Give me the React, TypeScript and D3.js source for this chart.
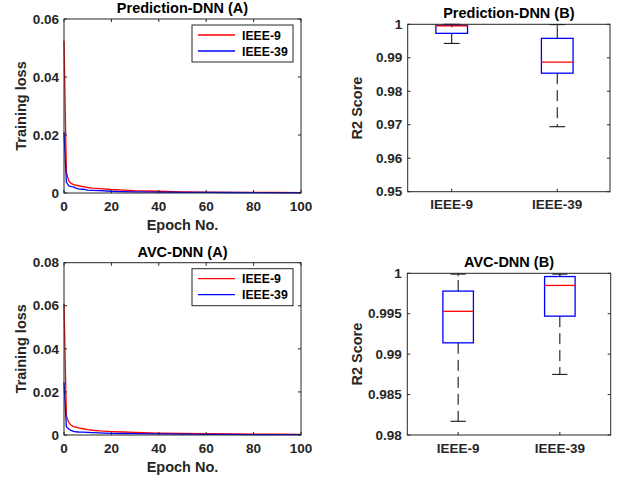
import React from 'react';
import * as d3 from 'd3';

// training loss curves
const epochs = [0, 1, 2, 3, 4, 5, 6, 8, 10, 12, 15, 20, 25, 30, 40, 50, 60, 70, 80, 90, 100];

const predLoss9 = [0.0525, 0.0072, 0.0042, 0.0033, 0.0029, 0.0027, 0.0025, 0.0022, 0.0019, 0.0017, 0.0015, 0.0012, 0.001, 0.0008, 0.0006, 0.0004, 0.0003, 0.00025, 0.0002, 0.00018, 0.00015];
const predLoss39 = [0.021, 0.0038, 0.0025, 0.0022, 0.0021, 0.0017, 0.0014, 0.0013, 0.001, 0.0009, 0.0008, 0.0006, 0.0005, 0.0004, 0.0003, 0.00025, 0.0002, 0.00018, 0.00015, 0.00012, 0.0001];
const avcLoss9 = [0.061, 0.0088, 0.0058, 0.0045, 0.0039, 0.0036, 0.0033, 0.0029, 0.0025, 0.0022, 0.0019, 0.0016, 0.0014, 0.0012, 0.0009, 0.0007, 0.0006, 0.0005, 0.0004, 0.00035, 0.0003];
const avcLoss39 = [0.0245, 0.0038, 0.0028, 0.0021, 0.0017, 0.0015, 0.0014, 0.0013, 0.0012, 0.0011, 0.001, 0.0008, 0.0007, 0.0006, 0.0005, 0.0004, 0.0003, 0.00025, 0.0002, 0.00018, 0.00015];

const seriesNames = ['IEEE-9', 'IEEE-39'];
const epochTicks = [0, 20, 40, 60, 80, 100];
const predLossTicks = [0, 0.02, 0.04, 0.06];
const avcLossTicks = [0, 0.02, 0.04, 0.06, 0.08];

// box plot stats per system
const categories = ['IEEE-9', 'IEEE-39'];
const predWhiskerHigh = [1.0, 0.9999];
const predQ3 = [0.9997, 0.9958];
const predMedian = [0.9995, 0.9887];
const predQ1 = [0.9973, 0.9854];
const predWhiskerLow = [0.9943, 0.9694];
const predR2Ticks = [0.95, 0.96, 0.97, 0.98, 0.99, 1];

const avcWhiskerHigh = [0.9999, 0.9999];
const avcQ3 = [0.9978, 0.9996];
const avcMedian = [0.9953, 0.9985];
const avcQ1 = [0.9914, 0.9947];
const avcWhiskerLow = [0.9817, 0.9875];
const avcR2Ticks = [0.98, 0.985, 0.99, 0.995, 1];

const FONT = '"Liberation Sans", Arial, Helvetica, sans-serif';
const AX = '#262626';
const TICK = 3;

const LossPanel = ({ box, title, s9, s39, yTicks }) => {
  const x = d3.scaleLinear().domain([0, 100]).range([box.l, box.r]);
  const y = d3.scaleLinear().domain([0, yTicks[yTicks.length - 1]]).range([box.b, box.t]);
  const line = d3.line<number>().x((d, i) => x(epochs[i])).y(d => y(d));
  const cx = (box.l + box.r) / 2;
  const cy = (box.t + box.b) / 2;
  const lg = { l: box.r - 109, t: box.t + 6, w: 101, h: 37 };
  return (
    <g fontFamily={FONT} fontWeight="bold" fill={AX}>
      <rect x={box.l} y={box.t} width={box.r - box.l} height={box.b - box.t} fill="#fff" />
      <path d={line(s9) || ''} fill="none" stroke="#ff0000" strokeWidth={1.3} />
      <path d={line(s39) || ''} fill="none" stroke="#0000ff" strokeWidth={1.3} />
      <rect x={box.l} y={box.t} width={box.r - box.l} height={box.b - box.t} fill="none" stroke={AX} strokeWidth={1} />
      {epochTicks.map(t => (
        <g key={t}>
          <line x1={x(t)} x2={x(t)} y1={box.b} y2={box.b - TICK} stroke={AX} />
          <line x1={x(t)} x2={x(t)} y1={box.t} y2={box.t + TICK} stroke={AX} />
          <text x={x(t)} y={box.b + 18} textAnchor="middle" fontSize={13.5}>{t}</text>
        </g>
      ))}
      {yTicks.map(t => (
        <g key={t}>
          <line x1={box.l} x2={box.l + TICK} y1={y(t)} y2={y(t)} stroke={AX} />
          <line x1={box.r} x2={box.r - TICK} y1={y(t)} y2={y(t)} stroke={AX} />
          <text x={box.l - 5} y={y(t) + 4.7} textAnchor="end" fontSize={13.5}>{String(t)}</text>
        </g>
      ))}
      <text x={cx} y={box.t - 6} textAnchor="middle" fontSize={14.5} fill="#000">{title}</text>
      <text x={cx} y={box.b + 37} textAnchor="middle" fontSize={14.5}>Epoch No.</text>
      <text transform={`translate(26,${cy}) rotate(-90)`} textAnchor="middle" fontSize={14.5}>Training loss</text>
      <rect x={lg.l} y={lg.t} width={lg.w} height={lg.h} fill="#fff" stroke={AX} strokeWidth={1} />
      {[s9, s39].map((_, i) => {
        const ly = lg.t + 10 + i * 16;
        return (
          <g key={i}>
            <line x1={lg.l + 6} x2={lg.l + 43} y1={ly} y2={ly} stroke={i === 0 ? '#ff0000' : '#0000ff'} strokeWidth={1.3} />
            <text x={lg.l + 50} y={ly + 4.5} fontSize={12.3} fill="#000">{seriesNames[i]}</text>
          </g>
        );
      })}
    </g>
  );
};

const BoxPanel = ({ box, title, domain, yTicks, hi, q3, med, q1, lo }) => {
  const x = d3.scaleLinear().domain(domain).range([box.l, box.r]);
  const y = d3.scaleLinear().domain([yTicks[0], yTicks[yTicks.length - 1]]).range([box.b, box.t]);
  const half = (x(1.15) - x(0.85)) / 2;
  const cx = (box.l + box.r) / 2;
  const cy = (box.t + box.b) / 2;
  return (
    <g fontFamily={FONT} fontWeight="bold" fill={AX}>
      <rect x={box.l} y={box.t} width={box.r - box.l} height={box.b - box.t} fill="#fff" />
      {categories.map((c, i) => {
        const px = x(i + 1);
        return (
          <g key={c}>
            <line x1={px} x2={px} y1={y(q3[i])} y2={y(hi[i])} stroke="#000" strokeDasharray="11,6" />
            <line x1={px} x2={px} y1={y(q1[i])} y2={y(lo[i])} stroke="#000" strokeDasharray="11,6" />
            <line x1={px - half / 2} x2={px + half / 2} y1={y(hi[i])} y2={y(hi[i])} stroke="#000" />
            <line x1={px - half / 2} x2={px + half / 2} y1={y(lo[i])} y2={y(lo[i])} stroke="#000" />
            <rect x={px - half} y={y(q3[i])} width={half * 2} height={y(q1[i]) - y(q3[i])} fill="none" stroke="#0000ff" strokeWidth={1.3} />
            <line x1={px - half} x2={px + half} y1={y(med[i])} y2={y(med[i])} stroke="#ff0000" strokeWidth={1.3} />
          </g>
        );
      })}
      <rect x={box.l} y={box.t} width={box.r - box.l} height={box.b - box.t} fill="none" stroke={AX} strokeWidth={1} />
      {categories.map((c, i) => (
        <g key={c}>
          <line x1={x(i + 1)} x2={x(i + 1)} y1={box.b} y2={box.b - TICK} stroke={AX} />
          <line x1={x(i + 1)} x2={x(i + 1)} y1={box.t} y2={box.t + TICK} stroke={AX} />
          <text x={x(i + 1)} y={box.b + 17.5} textAnchor="middle" fontSize={13.5}>{c}</text>
        </g>
      ))}
      {yTicks.map(t => (
        <g key={t}>
          <line x1={box.l} x2={box.l + TICK} y1={y(t)} y2={y(t)} stroke={AX} />
          <line x1={box.r} x2={box.r - TICK} y1={y(t)} y2={y(t)} stroke={AX} />
          <text x={box.l - 5.5} y={y(t) + 4.7} textAnchor="end" fontSize={13.5}>{String(t)}</text>
        </g>
      ))}
      <text x={cx} y={box.t - 6} textAnchor="middle" fontSize={14.5} fill="#000">{title}</text>
      <text transform={`translate(361.5,${cy}) rotate(-90)`} textAnchor="middle" fontSize={14.5}>R2 Score</text>
    </g>
  );
};

export default function App() {
  return (
    <svg width={619} height={480} style={{ position: 'absolute', left: 0, top: 0, background: '#fff' }}>
      <LossPanel box={{ l: 64, r: 301, t: 19, b: 193 }} title="Prediction-DNN (A)" s9={predLoss9} s39={predLoss39} yTicks={predLossTicks} />
      <LossPanel box={{ l: 64, r: 301, t: 262.7, b: 435 }} title="AVC-DNN (A)" s9={avcLoss9} s39={avcLoss39} yTicks={avcLossTicks} />
      <BoxPanel box={{ l: 407.7, r: 610, t: 24.3, b: 191.7 }} title="Prediction-DNN (B)" domain={[0.583, 2.5]} yTicks={predR2Ticks}
        hi={predWhiskerHigh} q3={predQ3} med={predMedian} q1={predQ1} lo={predWhiskerLow} />
      <BoxPanel box={{ l: 407.3, r: 610.7, t: 273.3, b: 435 }} title="AVC-DNN (B)" domain={[0.5, 2.5]} yTicks={avcR2Ticks}
        hi={avcWhiskerHigh} q3={avcQ3} med={avcMedian} q1={avcQ1} lo={avcWhiskerLow} />
    </svg>
  );
}
